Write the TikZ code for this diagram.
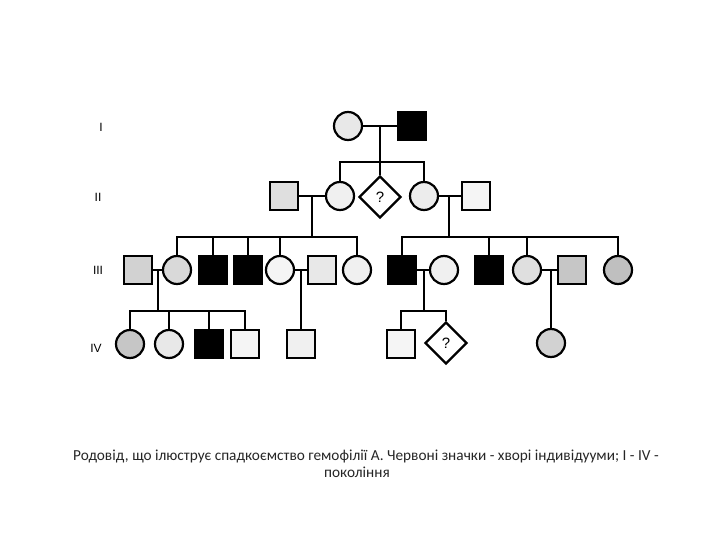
\documentclass[tikz,border=0pt]{standalone}
\usepackage{fontspec}
\setmainfont{Carlito}
\newfontfamily\labfont{Liberation Sans}
\usetikzlibrary{shapes.geometric}
\begin{document}
\begin{tikzpicture}[x=1pt,y=-1pt,
  ind/.style={draw=black, line width=2.2pt, inner sep=0pt},
  male/.style={ind, rectangle, minimum size=28pt},
  female/.style={ind, circle, minimum size=28pt},
  unk/.style={ind, diamond, minimum size=42pt, fill=white, font=\labfont\fontsize{15}{15}\selectfont},
  aff/.style={fill=black},
  link/.style={line width=1.6pt},
  gen/.style={font=\labfont\fontsize{12}{12}\selectfont},
  captext/.style={font=\fontsize{15.3}{17}\selectfont, text=black!85}]
\useasboundingbox (0,0) rectangle (720,540);

% Generation labels
\node[gen] (gI) at (101,127) {I};
\node[gen] (gII) at (98,197) {II};
\node[gen] (gIII) at (98,270) {III};
\node[gen] (gIV) at (96,348) {IV};

% Generation I
\node[female, fill=gray!18] (I1) at (348,126) {};
\node[male, aff] (I2) at (412,126) {};
\draw[link] (I1) -- (I2);
\coordinate (m1) at (380,126);
\coordinate (s1) at (380,162);

% Generation II
\node[male, fill=gray!25] (II1) at (284,196) {};
\node[female, fill=gray!12] (II2) at (340,196) {};
\node[unk] (II3) at (380,197) {?};
\node[female, fill=gray!15] (II4) at (424,196) {};
\node[male, fill=gray!8] (II5) at (476,196) {};
\draw[link] (m1) -- (II3.north);
\draw[link] (II2.north) |- (s1) -| (II4.north);
\draw[link] (II1) -- (II2);
\draw[link] (II4) -- (II5);
\coordinate (m2) at (312,196);
\coordinate (m3) at (449,196);
\coordinate (s2) at (312,237);
\coordinate (s3) at (449,237);

% Generation III
\node[male, fill=gray!35] (A) at (138,270) {};
\node[female, fill=gray!30] (B) at (177,270) {};
\node[male, aff] (C) at (213,270) {};
\node[male, aff] (D) at (248,270) {};
\node[female, fill=gray!8] (E) at (280,270) {};
\node[male, fill=gray!18] (F) at (322,270) {};
\node[female, fill=gray!12] (G) at (357,270) {};
\node[male, aff] (H) at (402,270) {};
\node[female, fill=gray!12] (I) at (444,270) {};
\node[male, aff] (J) at (489,270) {};
\node[female, fill=gray!25] (K) at (527,270) {};
\node[male, fill=gray!45] (L) at (572,270) {};
\node[female, fill=gray!50] (M) at (618,270) {};

\draw[link] (m2) -- (s2);
\draw[link] (B.north) |- (s2) -| (G.north);
\foreach \n in {C,D,E} \draw[link] (\n.north) -- (\n.north |- s2);
\draw[link] (m3) -- (s3);
\draw[link] (H.north) |- (s3) -| (M.north);
\foreach \n in {J,K} \draw[link] (\n.north) -- (\n.north |- s3);

\draw[link] (A) -- (B);
\draw[link] (E) -- (F);
\draw[link] (H) -- (I);
\draw[link] (K) -- (L);
\coordinate (m4) at (158,270);
\coordinate (m5) at (301,270);
\coordinate (m6) at (424,270);
\coordinate (m7) at (551,270);
\coordinate (s4) at (158,311);
\coordinate (s6) at (424,311);

% Generation IV
\node[female, fill=gray!45] (IV1) at (130,344) {};
\node[female, fill=gray!18] (IV2) at (169,344) {};
\node[male, aff] (IV3) at (209,344) {};
\node[male, fill=gray!8] (IV4) at (245,344) {};
\node[male, fill=gray!12] (IV5) at (301,344) {};
\node[male, fill=gray!8] (IV6) at (401,344) {};
\node[unk] (IV7) at (446,343) {?};
\node[female, fill=gray!35] (IV8) at (551,343) {};

\draw[link] (m4) -- (s4);
\draw[link] (IV1.north) |- (s4) -| (IV4.north);
\foreach \n in {IV2,IV3} \draw[link] (\n.north) -- (\n.north |- s4);
\draw[link] (m5) -- (IV5.north);
\draw[link] (m6) -- (s6);
\draw[link] (IV6.north) |- (s6) -| (IV7.north);
\draw[link] (m7) -- (IV8.north);

% Caption
\node[captext] (cap1) at (366,456) {Родовід, що ілюструє спадкоємство гемофілії А. Червоні значки - хворі індивідууми; I - IV -};
\node[captext] (cap2) at (357,472) {покоління};
\end{tikzpicture}
\end{document}
